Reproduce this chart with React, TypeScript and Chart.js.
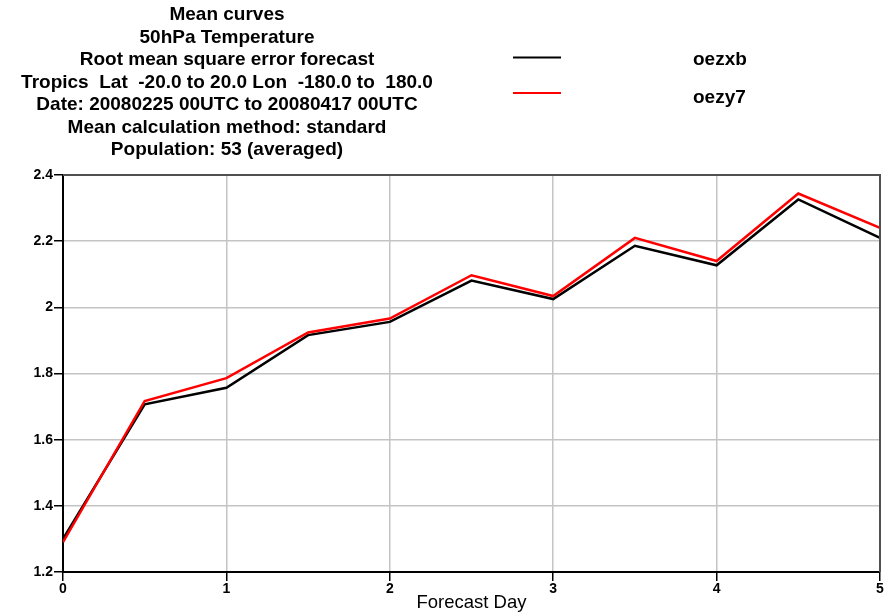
import React, { useEffect, useRef } from "react";
import { Chart, registerables } from "chart.js";

Chart.register(...registerables);

const forecastDays = [0, 0.5, 1, 1.5, 2, 2.5, 3, 3.5, 4, 4.5, 5];
const oezxb = [1.3, 1.707, 1.757, 1.916, 1.956, 2.081, 2.025, 2.186, 2.127, 2.326, 2.21];
const oezy7 = [1.29, 1.717, 1.786, 1.924, 1.966, 2.097, 2.034, 2.21, 2.14, 2.344, 2.24];
const seriesNames = ["oezxb", "oezy7"];
const seriesColors = ["#000000", "#ff0000"];
const titleLines = [
  "Mean curves",
  "50hPa Temperature",
  "Root mean square error forecast",
  "Tropics  Lat  -20.0 to 20.0 Lon  -180.0 to  180.0",
  "Date: 20080225 00UTC to 20080417 00UTC",
  "Mean calculation method: standard",
  "Population: 53 (averaged)",
];
const xAxisTitle = "Forecast Day";
const xRange = [0, 5];
const yRange = [1.2, 2.4];

const FONT = "'Liberation Sans', Arial, Helvetica, sans-serif";

const decorPlugin = {
  id: "decor",
  afterDraw(chart: any) {
    const ctx = chart.ctx;
    const ca = chart.chartArea;
    ctx.save();
    // top & right frame
    ctx.strokeStyle = "#505050";
    ctx.lineWidth = 2;
    ctx.beginPath();
    ctx.moveTo(ca.left, ca.top);
    ctx.lineTo(ca.right, ca.top);
    ctx.lineTo(ca.right, ca.bottom);
    ctx.stroke();
    // title
    ctx.fillStyle = "#000";
    ctx.font = `bold 19px ${FONT}`;
    ctx.textAlign = "center";
    ctx.textBaseline = "alphabetic";
    titleLines.forEach((t, i) => {
      ctx.fillText(t, 227, 20 + i * 22.5);
    });
    // legend
    const legendY = [57.5, 93];
    ctx.textAlign = "left";
    ctx.font = `bold 19px ${FONT}`;
    seriesNames.forEach((name, i) => {
      ctx.strokeStyle = seriesColors[i];
      ctx.lineWidth = 2;
      ctx.beginPath();
      ctx.moveTo(513, legendY[i]);
      ctx.lineTo(561, legendY[i]);
      ctx.stroke();
      ctx.fillStyle = "#000";
      ctx.fillText(name, 693, legendY[i] + 7.5 + i * 2);
    });
    ctx.restore();
  },
};

export default function App() {
  const ref = useRef<HTMLCanvasElement | null>(null);
  useEffect(() => {
    if (!ref.current) return;
    const series = [oezxb, oezy7];
    const chart = new Chart(ref.current, {
      type: "line",
      data: {
        datasets: series.map((vals, i) => ({
          label: seriesNames[i],
          data: forecastDays.map((x, j) => ({ x, y: vals[j] })),
          borderColor: seriesColors[i],
          backgroundColor: seriesColors[i],
          borderWidth: 2.5,
          pointRadius: 0,
          tension: 0,
          fill: false,
          order: i === 0 ? 1 : 0,
        })),
      },
      options: {
        responsive: false,
        animation: false,
        layout: { padding: { top: 175, right: 8, left: 0, bottom: 0 } },
        plugins: {
          legend: { display: false },
          title: { display: false },
          tooltip: { enabled: false },
        },
        scales: {
          x: {
            type: "linear",
            min: xRange[0],
            max: xRange[1],
            ticks: {
              stepSize: 1,
              color: "#000",
              font: { family: FONT, size: 14, weight: "bold" },
              padding: 0,
              maxRotation: 0,
            },
            grid: {
              color: "#c4c4c4",
              lineWidth: 1.5,
              tickLength: 9,
              tickColor: "#000",
              tickWidth: 1.5,
            },
            border: { color: "#000", width: 2 },
            title: {
              display: true,
              text: xAxisTitle,
              color: "#000",
              font: { family: FONT, size: 18.5 },
              padding: { top: 0, bottom: 2 },
            },
            afterFit: (s: any) => {
              s.height = 44;
            },
          },
          y: {
            type: "linear",
            min: yRange[0],
            max: yRange[1],
            ticks: {
              stepSize: 0.2,
              color: "#000",
              font: { family: FONT, size: 14, weight: "bold" },
              padding: 1,
              callback: (v: any) => String(Number(Number(v).toFixed(1))),
            },
            grid: {
              color: "#c4c4c4",
              lineWidth: 1.5,
              tickLength: 9,
              tickColor: "#000",
              tickWidth: 1.5,
            },
            border: { color: "#000", width: 2 },
            afterFit: (s: any) => {
              s.width = 63;
            },
          },
        },
      },
      plugins: [decorPlugin],
    } as any);
    return () => chart.destroy();
  }, []);
  return (
    <div style={{ position: "absolute", left: 0, top: 0, width: 888, height: 616, background: "#fff" }}>
      <canvas ref={ref} width={888} height={616} />
    </div>
  );
}
